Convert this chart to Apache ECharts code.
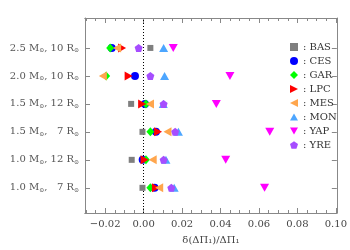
<!DOCTYPE html>
<html><head><meta charset="utf-8">
<script src="https://cdn.jsdelivr.net/npm/echarts@6/dist/echarts.min.js"></script>
<style>html,body{margin:0;padding:0;background:#fff}#c{width:350px;height:250px}</style>
</head><body><div id="c"></div>
<script>
// Rows bottom -> top
var massLabels = ['1.0', '1.0', '1.5', '1.5', '2.0', '2.5'];
var radiusLabels = ['7', '12', '7', '12', '10', '10'];
var rowValues = [1, 2, 3, 4, 5, 6];

var seriesNames = ['BAS', 'CES', 'GAR', 'LPC', 'MES', 'MON', 'YAP', 'YRE'];
var BAS = [-0.0006, -0.0062, -0.0006, -0.0065, null, 0.0035];
var CES = [0.0057, -0.0005, 0.0064, 0.0007, -0.0045, -0.0166];
var GAR = [0.0035, 0.0012, 0.0035, 0.0012, -0.0195, -0.0174];
var LPC = [0.0064, 0.0005, 0.0075, -0.0008, -0.0078, -0.0112];
var MES = [0.0081, 0.0047, 0.0124, 0.0033, -0.0212, -0.0138];
var MON = [0.0159, 0.0116, 0.0181, 0.0102, 0.0109, 0.0104];
var YAP = [0.0629, 0.0427, 0.0656, 0.0378, 0.0449, 0.0154];
var YRE = [0.0144, 0.0104, 0.0164, 0.0104, 0.0035, -0.0026];

var xMajorTicks = [-0.02, 0.00, 0.02, 0.04, 0.06, 0.08, 0.10];
var xMin = -0.0305, xMax = 0.1005;

var values = {BAS: BAS, CES: CES, GAR: GAR, LPC: LPC, MES: MES, MON: MON, YAP: YAP, YRE: YRE};
var styles = {
  BAS: {symbol: 'rect', size: 6, color: '#7f7f7f'},
  CES: {symbol: 'circle', size: 8, color: '#0000ff'},
  GAR: {symbol: 'diamond', size: [8, 9], color: '#00ff00'},
  LPC: {symbol: 'path://M0,0L10,5L0,10Z', size: [8, 9], color: '#ff0000'},
  MES: {symbol: 'path://M10,0L0,5L10,10Z', size: [8, 9], color: '#ffa64d'},
  MON: {symbol: 'path://M5,0L10,9L0,9Z', size: [9, 8], color: '#4da6ff'},
  YAP: {symbol: 'path://M0,0L10,0L5,9Z', size: [9, 8], color: '#ff00ff'},
  YRE: {symbol: 'path://M50,0L97.55,34.55L79.39,90.45L20.61,90.45L2.45,34.55Z', size: [8, 8], color: '#a64dff'}
};

var minorTicks = [];
for (var i = 0; i <= 26; i++) { minorTicks.push(Math.round((-0.03 + i * 0.005) * 1000) / 1000); }

var axisColor = '#888';
var serif = '"DejaVu Serif", "Liberation Serif", serif';

function xAxisCfg(pos, ticks, len, showLabel, name) {
  return {
    type: 'value', position: pos, min: xMin, max: xMax,
    splitLine: {show: false},
    axisLine: {show: true, onZero: false, lineStyle: {color: axisColor, width: 1}},
    axisTick: {show: true, inside: true, length: len, customValues: ticks, lineStyle: {color: axisColor}},
    axisLabel: {show: showLabel, customValues: xMajorTicks, margin: 6, fontFamily: serif, fontSize: 10, color: '#444',
      formatter: function (v) { return v.toFixed(2).replace('-', '\u2212'); }},
    name: name || '', nameLocation: 'middle', nameGap: 22,
    nameTextStyle: {fontFamily: serif, fontSize: 10, color: '#444'}
  };
}

var series = seriesNames.map(function (n, k) {
  var st = styles[n];
  var s = {
    name: n, type: 'scatter', xAxisIndex: 0, yAxisIndex: 0,
    symbol: st.symbol, symbolSize: st.size,
    itemStyle: {color: st.color, opacity: 1},
    data: values[n].map(function (v, j) { return v === null ? null : [v, rowValues[j]]; }).filter(function (d) { return d; }),
    z: 3 + k
  };
  if (n === 'BAS') {
    s.markLine = {silent: true, symbol: 'none', label: {show: false}, z: 1,
      lineStyle: {type: [1, 2], color: '#000', width: 1}, data: [{xAxis: 0}]};
  }
  return s;
});

var chart = echarts.init(document.getElementById('c'));
chart.setOption({
  animation: false,
  grid: {left: 85, right: 12, top: 18, bottom: 37},
  legend: {
    orient: 'vertical', left: 290, top: 40, itemGap: 0, itemWidth: 8, itemHeight: 8,
    padding: 0,
    textStyle: {fontFamily: serif, fontSize: 10, color: '#333', lineHeight: 14, padding: 0},
    formatter: function (n) { return ': ' + n; },
    data: seriesNames
  },
  xAxis: [
    xAxisCfg('bottom', xMajorTicks, 5, true, '\u03b4(\u0394\u03a0\u2081)/\u0394\u03a0\u2081'),
    xAxisCfg('bottom', minorTicks, 3, false),
    xAxisCfg('top', xMajorTicks, 5, false),
    xAxisCfg('top', minorTicks, 3, false)
  ],
  yAxis: [
    {type: 'value', position: 'left', min: 0.1, max: 7.07,
      splitLine: {show: false},
      axisLine: {show: true, onZero: false, lineStyle: {color: axisColor}},
      axisTick: {show: true, inside: true, length: 5, customValues: rowValues, lineStyle: {color: axisColor}},
      axisLabel: {show: true, customValues: rowValues, margin: 6, fontFamily: serif, fontSize: 10, color: '#555',
        formatter: function (v) {
          var i = rowValues.indexOf(v);
          return massLabels[i] + ' M{s|\u2299}, ' + (radiusLabels[i].length < 2 ? '  ' : '') + radiusLabels[i] + ' R{s|\u2299}';
        },
        rich: {s: {fontFamily: serif, fontSize: 6, color: '#555', padding: [6, 0, 0, 0]}}
      }},
    {type: 'value', position: 'right', min: 0.1, max: 7.07,
      splitLine: {show: false},
      axisLine: {show: true, onZero: false, lineStyle: {color: axisColor}},
      axisTick: {show: true, inside: true, length: 5, customValues: rowValues, lineStyle: {color: axisColor}},
      axisLabel: {show: false}}
  ],
  series: series
});
</script></body></html>
